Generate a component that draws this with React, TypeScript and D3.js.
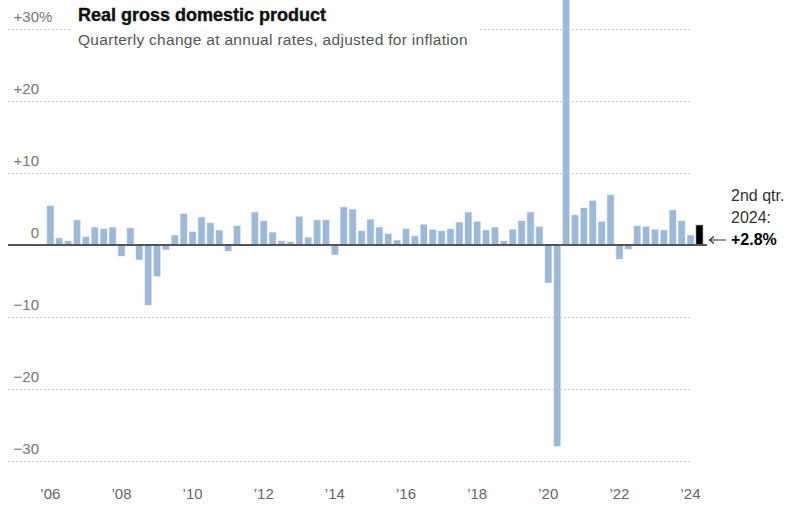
import React, { useEffect, useRef } from "react";
import * as d3 from "d3";

const years = d3.range(2006, 2025);
const qtrs = ["Q1", "Q2", "Q3", "Q4"];

// quarterly change at annual rates, 2006 Q1 .. 2024 Q2
const gdp = [
  5.5, 1.0, 0.6, 3.5,
  1.2, 2.5, 2.3, 2.5,
  -1.6, 2.4, -2.1, -8.4,
  -4.4, -0.7, 1.4, 4.4,
  1.9, 3.9, 3.1, 2.1,
  -0.9, 2.7, -0.1, 4.6,
  3.4, 1.8, 0.6, 0.5,
  4.0, 1.1, 3.5, 3.5,
  -1.4, 5.3, 5.0, 2.0,
  3.6, 2.5, 1.6, 0.7,
  2.3, 1.3, 2.9, 2.2,
  2.0, 2.3, 3.2, 4.6,
  3.3, 2.1, 2.5, 0.6,
  2.2, 3.4, 4.6, 2.6,
  -5.3, -28.0, 34.8, 4.2,
  5.2, 6.2, 3.3, 7.0,
  -2.0, -0.6, 2.7, 2.6,
  2.2, 2.1, 4.9, 3.4,
  1.4, 2.8,
];

const quarters = years.flatMap((y) => qtrs.map((q) => `${y} ${q}`)).slice(0, gdp.length);
const yTicks = [30, 20, 10, 0, -10, -20, -30];
const yearTicks = [2006, 2008, 2010, 2012, 2014, 2016, 2018, 2020, 2022, 2024];

const W = 791;
const H = 507;
const font = "'Liberation Sans', Arial, sans-serif";

function fmtTick(v: number) {
  if (v > 0) return "+" + v;
  if (v < 0) return "\u2212" + Math.abs(v);
  return "0";
}

export default function App() {
  const el = useRef<SVGSVGElement>(null);

  useEffect(() => {
    const svg = d3.select(el.current);
    svg.selectAll("*").remove();

    const x = d3.scaleBand<string>()
      .domain(quarters)
      .range([45.9, 703.9])
      .paddingInner(0.17)
      .paddingOuter(0.085);

    const y = d3.scaleLinear().domain([-30, 30]).range([461, 29]);

    // gridlines
    svg.append("g")
      .selectAll("line")
      .data(yTicks.filter((d) => d !== 0))
      .join("line")
      .attr("x1", 8)
      .attr("x2", 690)
      .attr("y1", (d) => y(d) + 0.5)
      .attr("y2", (d) => y(d) + 0.5)
      .attr("stroke", "#c8c8c8")
      .attr("stroke-dasharray", "2,2");

    // tick labels
    const tl = svg.append("g")
      .attr("font-family", font)
      .attr("font-size", 15)
      .attr("fill", "#777");
    tl.selectAll("text")
      .data(yTicks)
      .join("text")
      .attr("x", 39)
      .attr("y", (d) => y(d) - 7)
      .attr("text-anchor", "end")
      .text((d) => fmtTick(d));
    tl.append("text")
      .attr("x", 39)
      .attr("y", y(30) - 7)
      .text("%");

    // title block (covers gridline)
    svg.append("rect")
      .attr("x", 70)
      .attr("y", 0)
      .attr("width", 410)
      .attr("height", 52)
      .attr("fill", "#fff");
    svg.append("text")
      .attr("x", 78)
      .attr("y", 20.5)
      .attr("font-family", font)
      .attr("font-size", 18)
      .attr("font-weight", "bold")
      .attr("fill", "#111")
      .attr("stroke", "#111")
      .attr("stroke-width", 0.4)
      .text("Real gross domestic product");
    svg.append("text")
      .attr("x", 78)
      .attr("y", 44.5)
      .attr("font-family", font)
      .attr("font-size", 15.5)
      .attr("letter-spacing", 0.3)
      .attr("fill", "#555")
      .text("Quarterly change at annual rates, adjusted for inflation");

    // bars
    svg.append("g")
      .selectAll("rect")
      .data(gdp)
      .join("rect")
      .attr("x", (d, i) => x(quarters[i])!)
      .attr("width", x.bandwidth())
      .attr("y", (d) => y(Math.max(0, d)))
      .attr("height", (d) => Math.abs(y(d) - y(0)))
      .attr("fill", (d, i) => (i === gdp.length - 1 ? "#000" : "#9cb9d9"))
      .attr("stroke", "rgba(255,255,255,0.6)")
      .attr("stroke-width", 1);

    // zero line
    svg.append("line")
      .attr("x1", 8)
      .attr("x2", 707)
      .attr("y1", y(0))
      .attr("y2", y(0))
      .attr("stroke", "#555")
      .attr("stroke-width", 2);

    // year labels
    svg.append("g")
      .selectAll("text")
      .data(yearTicks)
      .join("text")
      .attr("x", (d) => x(`${d} Q1`)! + x.bandwidth() / 2)
      .attr("y", 499)
      .attr("text-anchor", "middle")
      .attr("font-family", font)
      .attr("font-size", 15)
      .attr("fill", "#666")
      .text((d) => "\u2019" + String(d).slice(2));

    // annotation
    const last = gdp[gdp.length - 1];
    const ann = svg.append("g").attr("font-family", font).attr("font-size", 16);
    ann.append("text").attr("x", 731).attr("y", 200.5).attr("fill", "#333").text("2nd qtr.");
    ann.append("text").attr("x", 731).attr("y", 222.5).attr("fill", "#333").text("2024:");
    const ay = y(0) - 5;
    ann.append("path")
      .attr("d", `M726,${ay}H710M714,${ay - 3.5}L709.5,${ay}L714,${ay + 3.5}`)
      .attr("fill", "none")
      .attr("stroke", "#333")
      .attr("stroke-width", 1.2);
    ann.append("text")
      .attr("x", 731)
      .attr("y", 245)
      .attr("font-weight", "bold")
      .attr("fill", "#000")
      .text(`+${last.toFixed(1)}%`);
  }, []);

  return (
    <div style={{ position: "absolute", left: 0, top: 0 }}>
      <svg ref={el} width={W} height={H} style={{ display: "block" }} />
    </div>
  );
}
